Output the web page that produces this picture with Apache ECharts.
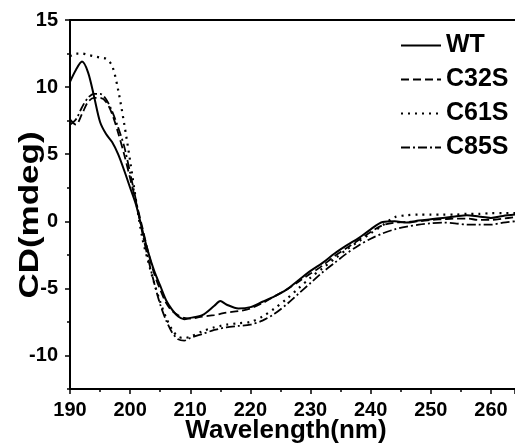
<!DOCTYPE html>
<html>
<head>
<meta charset="utf-8">
<script src="https://cdn.jsdelivr.net/npm/echarts@6/dist/echarts.min.js"></script>
<style>
html,body{margin:0;padding:0;background:#fff;}
#chart{width:515px;height:446px;}
</style>
</head>
<body>
<div id="chart"></div>
<script>
const wavelength = [190,191,192,193,194,195,196,197,198,199,200,201,202,203,204,205,206,207,208,209,210,212,214,215,216,218,220,222,224,226,228,230,232,234,236,238,240,242,244,246,248,250,252,254,256,258,260,262,264];
const seriesNames = ['WT','C32S','C61S','C85S'];
const wt   = [10.4,11.3,11.9,11.1,9.3,7.4,6.5,5.9,5.0,3.8,2.5,1.2,-0.6,-2.3,-3.7,-4.8,-5.9,-6.6,-7.1,-7.3,-7.2,-7.0,-6.3,-5.95,-6.2,-6.5,-6.4,-6.0,-5.6,-5.1,-4.4,-3.7,-3.1,-2.4,-1.8,-1.25,-0.6,-0.05,0.0,-0.1,0.05,0.15,0.25,0.35,0.45,0.35,0.25,0.4,0.5];
const c32s = [7.6,7.2,8.0,8.9,9.2,9.2,8.9,8.0,6.6,5.0,3.2,1.4,-0.4,-2.3,-3.9,-5.1,-6.1,-6.7,-7.0,-7.2,-7.25,-7.1,-7.0,-6.9,-6.8,-6.7,-6.5,-6.1,-5.6,-5.1,-4.5,-3.9,-3.3,-2.6,-2.0,-1.4,-0.8,-0.3,-0.1,-0.05,0.0,0.1,0.15,0.2,0.2,0.1,0.1,0.2,0.3];
const c61s = [12.3,12.5,12.5,12.4,12.3,12.2,12.1,11.6,9.8,7.3,4.5,1.5,-1.2,-3.0,-4.6,-6.0,-7.2,-8.1,-8.6,-8.7,-8.6,-8.2,-7.9,-7.8,-7.7,-7.6,-7.5,-7.1,-6.5,-5.8,-5.0,-4.2,-3.5,-2.8,-2.1,-1.5,-0.9,-0.3,0.3,0.45,0.5,0.5,0.5,0.5,0.55,0.55,0.6,0.6,0.6];
const c85s = [7.2,7.6,8.5,9.2,9.5,9.5,9.1,8.2,7.0,5.6,3.6,1.5,-0.8,-2.8,-4.6,-6.2,-7.4,-8.3,-8.8,-8.9,-8.7,-8.4,-8.1,-8.0,-7.9,-7.8,-7.7,-7.4,-6.9,-6.2,-5.4,-4.6,-3.8,-3.1,-2.4,-1.8,-1.3,-0.9,-0.6,-0.4,-0.25,-0.15,-0.1,-0.15,-0.25,-0.25,-0.25,-0.1,0.0];
const yTickValues = [-10,-5,0,5,10,15];
const yMinorValues = [-12.5,-7.5,-2.5,2.5,7.5,12.5];
const xTitle = 'Wavelength(nm)';
const yTitle = 'CD(mdeg)';

const FONT = '"Liberation Sans", Arial, sans-serif';
const dashes = ['solid',[8,4],[2,5],[9,3,2,3]];
const widths = [2,1.8,2.2,1.8];
const values = [wt,c32s,c61s,c85s];

const chart = echarts.init(document.getElementById('chart'));
chart.setOption({
  animation:false,
  backgroundColor:'#fff',
  grid:{left:70,top:20,width:448,bottom:57},
  legend:{
    orient:'vertical', left:395, top:28, itemWidth:40, itemHeight:14, itemGap:9,
    itemStyle:{opacity:0},
    textStyle:{fontFamily:FONT,fontWeight:'bold',fontSize:25,color:'#000'},
    data:seriesNames
  },
  xAxis:[{
    type:'value', min:190, max:264, interval:10, position:'bottom',
    axisLine:{onZero:false,lineStyle:{color:'#000',width:2}},
    axisTick:{show:true,inside:false,length:5,lineStyle:{color:'#000',width:1.5}},
    minorTick:{show:true,splitNumber:2,length:3,lineStyle:{color:'#000',width:1.5}},
    axisLabel:{margin:11,fontFamily:FONT,fontWeight:'bold',fontSize:20,color:'#000',showMaxLabel:false},
    splitLine:{show:false}
  },{
    type:'value', position:'top', min:190, max:264,
    axisLine:{onZero:false,lineStyle:{color:'#000',width:2}},
    axisTick:{show:false}, axisLabel:{show:false}, splitLine:{show:false}
  }],
  yAxis:[{
    type:'value', min:-12.5, max:15,
    axisLine:{show:true,onZero:false,lineStyle:{color:'#000',width:2}},
    axisTick:{show:true,length:5,customValues:yTickValues,lineStyle:{color:'#000',width:1.5}},
    axisLabel:{margin:12,customValues:yTickValues,fontFamily:FONT,fontWeight:'bold',fontSize:20,color:'#000'},
    splitLine:{show:false}
  },{
    type:'value', min:-12.5, max:15, position:'left',
    axisLine:{show:false,onZero:false},
    axisTick:{show:true,length:3,customValues:yMinorValues,lineStyle:{color:'#000',width:1.5}},
    axisLabel:{show:false}, splitLine:{show:false}
  }],
  graphic:[
    {type:'text', x:286, y:431, style:{text:xTitle, font:'bold 26px '+FONT, fill:'#000', align:'center', verticalAlign:'middle'}},
    {type:'text', x:30, y:215, rotation:Math.PI/2, scaleX:1.25, style:{text:yTitle, font:'bold 28px '+FONT, fill:'#000', align:'center', verticalAlign:'middle'}}
  ],
  series: seriesNames.map((n,k)=>({
    name:n, type:'line', xAxisIndex:0, yAxisIndex:0,
    smooth:0.3, symbol:'none', showSymbol:false,
    data: wavelength.map((x,i)=>[x, values[k][i]]),
    lineStyle:{color:'#000', width:widths[k], type:dashes[k]},
    itemStyle:{color:'#000'}
  }))
});
</script>
</body>
</html>
